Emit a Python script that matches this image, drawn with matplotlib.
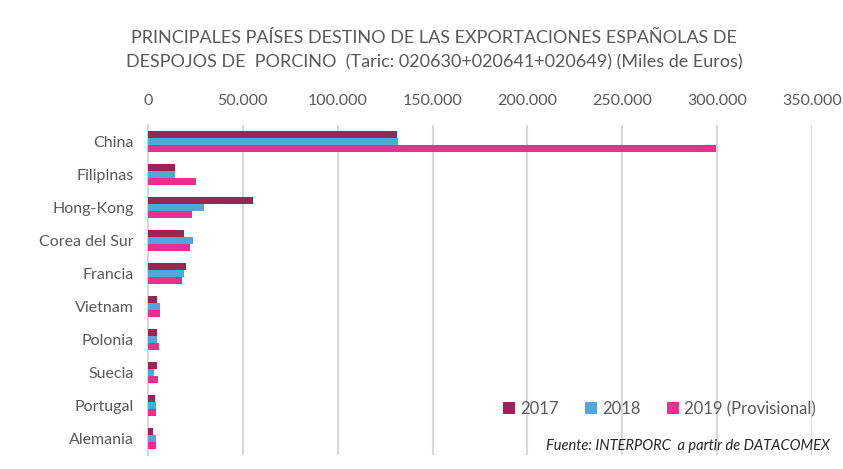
import matplotlib.pyplot as plt
import numpy as np
from matplotlib.ticker import FuncFormatter

plt.rcParams['font.family'] = ['Lato', 'DejaVu Sans']

paises = ['China', 'Filipinas', 'Hong-Kong', 'Corea del Sur', 'Francia',
          'Vietnam', 'Polonia', 'Suecia', 'Portugal', 'Alemania']
v2017 = [131200, 14000, 55600, 18800, 20000, 4900, 4900, 4900, 3700, 2500]
v2018 = [131900, 14000, 29600, 23700, 18800, 6500, 4600, 3200, 4200, 4200]
v2019 = [299500, 25300, 23200, 22100, 17900, 6500, 6000, 5400, 4200, 4200]
series = ['2017', '2018', '2019 (Provisional)']
colores = ['#9B2355', '#4FA8DC', '#E8308F']
gris = '#595959'

fig = plt.figure(figsize=(8.43, 4.69), dpi=100)
ax = fig.add_axes([148/843, 1-455/469, (812-148)/843, (455-125)/469])

y = np.arange(len(paises))
h = 0.21
for i, (vals, c, lab) in enumerate(zip([v2017, v2018, v2019], colores, series)):
    ax.barh(y + (i-1)*h, vals, height=h, color=c, label=lab, zorder=3)

ax.set_xlim(0, 350000)
ax.set_ylim(len(paises)-0.5, -0.5)
ax.set_xticks(np.arange(0, 350001, 50000))
ax.xaxis.set_major_formatter(FuncFormatter(lambda v, p: '0' if v == 0 else f'{int(v):,}'.replace(',', '.')))
ax.xaxis.tick_top()
ax.tick_params(axis='x', length=0, pad=12, labelsize=11.5, labelcolor=gris)
ax.set_yticks(y)
ax.set_yticklabels(paises)
ax.tick_params(axis='y', length=0, pad=10, labelsize=11.5, labelcolor=gris)
ax.grid(axis='x', color='#D9D9D9', linewidth=1.5, zorder=0)
for s in ['top', 'right', 'bottom']:
    ax.spines[s].set_visible(False)
ax.spines['left'].set_color('#D9D9D9')
ax.spines['left'].set_linewidth(1.5)

fig.text(0.515, 1-50/469, 'PRINCIPALES PAÍSES DESTINO DE LAS EXPORTACIONES ESPAÑOLAS DE\n'
         'DESPOJOS DE  PORCINO  (Taric: 020630+020641+020649) (Miles de Euros)',
         ha='center', va='center', fontsize=13, color=gris, linespacing=1.6)

ax.legend(loc='lower right', bbox_to_anchor=(1.015, 0.095), ncol=3, frameon=False,
          fontsize=12, labelcolor=gris, handlelength=0.7, handleheight=0.7,
          handletextpad=0.3, columnspacing=1.6, borderaxespad=0)

fig.text(0.985, 0.05, 'Fuente: INTERPORC  a partir de DATACOMEX', ha='right', va='center',
         fontsize=10.5, style='italic', color='#262626')

fig.savefig('out.png', dpi=100)
